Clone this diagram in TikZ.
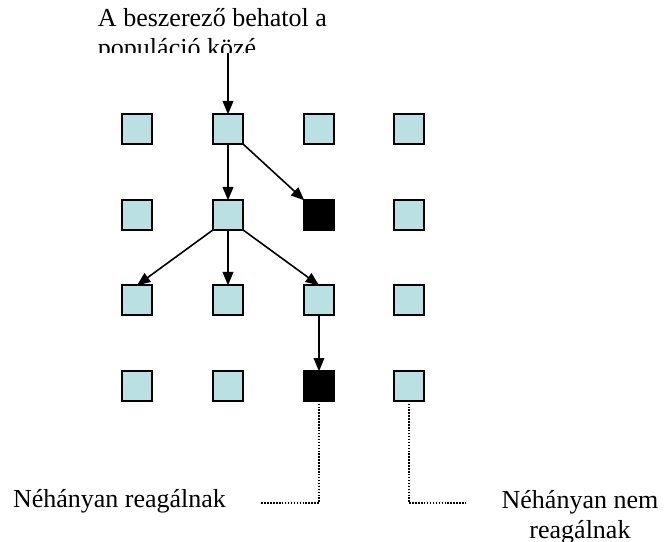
\documentclass[tikz,border=0pt]{standalone}
\usepackage{fontspec}
\setmainfont{Liberation Serif}
\usetikzlibrary{arrows.meta}
\definecolor{cell}{RGB}{187,224,227}
\begin{document}
\begin{tikzpicture}[x=0.75pt,y=-0.75pt,
  cellbox/.style={draw=black, line width=1.6pt, fill=cell, minimum size=22pt, inner sep=0pt, outer sep=0pt},
  hitbox/.style={cellbox, fill=black},
  arr/.style={line width=1.2pt, -{Triangle[length=10pt,width=8pt]}},
  dotline/.style={line width=1.1pt, dash pattern=on 1.1pt off 1.1pt},
  lbl/.style={inner sep=0pt, outer sep=0pt, font=\fontsize{19.5}{22.5}\selectfont}]
\useasboundingbox (0,0) rectangle (669,542);
% grid of squares
\node[cellbox] (n11) at (137,129) {};
\node[cellbox] (n21) at (228,129) {};
\node[cellbox] (n31) at (319,129) {};
\node[cellbox] (n41) at (409,129) {};
\node[cellbox] (n12) at (137,215) {};
\node[cellbox] (n22) at (228,215) {};
\node[hitbox]  (n32) at (319,215) {};
\node[cellbox] (n42) at (409,215) {};
\node[cellbox] (n13) at (137,300) {};
\node[cellbox] (n23) at (228,300) {};
\node[cellbox] (n33) at (319,300) {};
\node[cellbox] (n43) at (409,300) {};
\node[cellbox] (n14) at (137,386) {};
\node[cellbox] (n24) at (228,386) {};
\node[hitbox]  (n34) at (319,386) {};
\node[cellbox] (n44) at (409,386) {};
% top text (second line cut off by its box)
\begin{scope}
\clip (0,0) rectangle (669,53);
\node[lbl, anchor=base west, align=left] (top) at (98,57) {A beszerező behatol a\\populáció közé};
\end{scope}
\coordinate (entry) at (228,53);
% arrows
\draw[arr] (entry) -- (n21.north);
\draw[arr] (n21.south) -- (n22.north);
\draw[arr] (n21.south east) -- (n32.north west);
\draw[arr] (n22.south west) -- (n13.north);
\draw[arr] (n22.south) -- (n23.north);
\draw[arr] (n22.south east) -- (n33.north);
\draw[arr] (n33.south) -- (n34.north);
% bottom labels
\node[lbl, anchor=base west] (resp) at (13,508) {Néhányan reagálnak};
\node[lbl, anchor=base, align=center] (noresp) at (580,538) {Néhányan nem\\reagálnak};
\coordinate (dl) at (260,503);
\coordinate (dr) at (466,503);
\draw[dotline] (n34.south) |- (dl);
\draw[dotline] (n44.south) |- (dr);
\end{tikzpicture}
\end{document}
